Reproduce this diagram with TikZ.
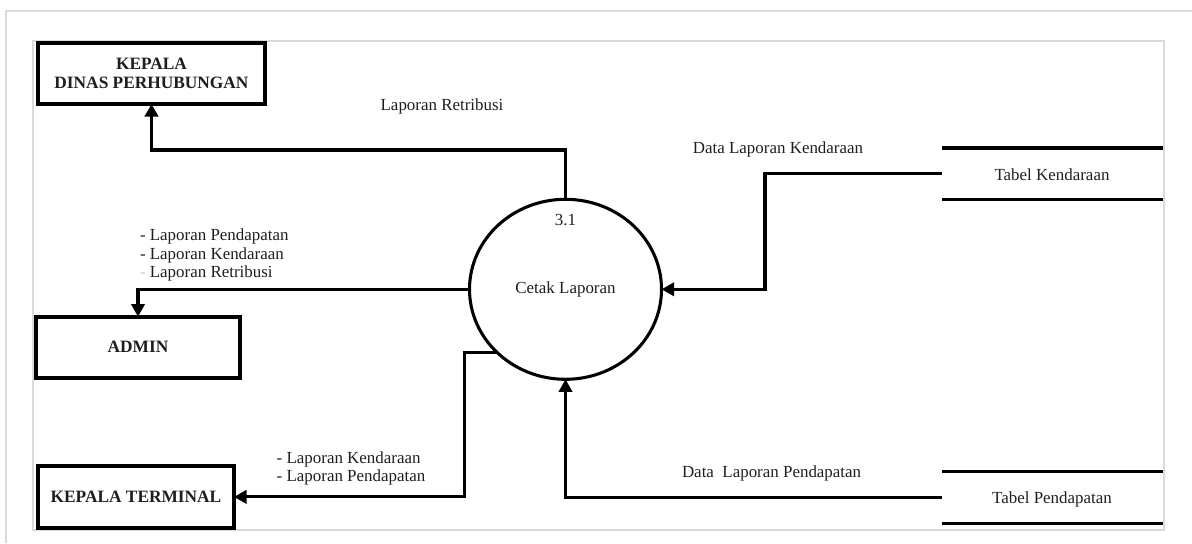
\documentclass[tikz,border=0pt]{standalone}
\usepackage{fontspec}
\setmainfont{Liberation Serif}
\usetikzlibrary{arrows.meta,shapes.geometric}
\definecolor{ink}{HTML}{1E1E1E}
\definecolor{framegray}{HTML}{DADADA}
\definecolor{faint}{HTML}{C8C8C8}
\begin{document}
\begin{tikzpicture}[x=0.75pt,y=-0.75pt,
  txt/.style={font=\fontsize{12.7pt}{14pt}\selectfont, text=ink, inner sep=0pt, outer sep=0pt},
  entity/.style={draw=black, line width=2.7pt, text=ink,
    font=\fontsize{13pt}{14.5pt}\selectfont\bfseries, align=center,
    inner sep=0pt, outer sep=0pt},
  proc/.style={ellipse, draw=black, line width=2.3pt, inner sep=0pt, outer sep=0pt,
    minimum width=144pt, minimum height=135pt},
  store/.style={inner sep=0pt, outer sep=0pt, minimum width=166pt, minimum height=38.5pt,
    font=\fontsize{12.7pt}{14pt}\selectfont, text=ink},
  storeline/.style={line width=2.4pt, draw=black},
  flow/.style={line width=2.3pt, draw=black, line join=miter,
    -{Triangle[length=9.5pt,width=10pt]}},
  frameline/.style={draw=framegray, line width=1.5pt}
]
\useasboundingbox (0,0) rectangle (1192,543);

% page frames
\draw[frameline] (6,543) -- (6,11) -- (1192,11);
\draw[frameline] (33,41) rectangle (1164,530);

% external entities
\node[entity, minimum width=170.25pt, minimum height=45.75pt] (kdp) at (151.5,73.5)
  {KEPALA\\DINAS PERHUBUNGAN};
\node[entity, minimum width=153pt, minimum height=45.75pt] (admin) at (138,347.2) {ADMIN};
\node[entity, minimum width=147pt, minimum height=46.5pt] (kt) at (136,496.9) {KEPALA TERMINAL};

% process
\node[proc] (p31) at (565.5,289.3) {};
\node[txt, anchor=base] (p31num) at (565.5,225.7) {3.1};
\node[txt, anchor=base] (p31name) at (565.5,293.3) {Cetak Laporan};

% data stores
\node[store] (tk) at (1052.5,173.7) {};
\node[txt, anchor=base] (tktext) at (1052,180) {Tabel Kendaraan};
\draw[storeline] (tk.north west) -- (tk.north east);
\draw[storeline] (tk.south west) -- (tk.south east);

\node[store] (tp) at (1052.5,497.5) {};
\node[txt, anchor=base] (tptext) at (1052,503.3) {Tabel Pendapatan};
\draw[storeline] (tp.north west) -- (tp.north east);
\draw[storeline] (tp.south west) -- (tp.south east);

% bend points
\coordinate (upper) at (152,150);
\coordinate (kbend) at (765,175);
\coordinate (tbend) at (464.5,353);

% data flows
\draw[flow] (p31.north) -- (p31.north |- upper) -| (kdp.south);
\draw[flow] (tk.west) -- (tk.west -| kbend) |- (p31.east);
\draw[flow] (tp.west) -| (p31.south);
\draw[flow] (p31.west) -| (admin.north);
\draw[flow] (p31.223) -- (p31.223 -| tbend) |- (kt.east);

% flow labels
\node[txt, anchor=base] (lretribusi) at (442,110.7) {Laporan Retribusi};
\node[txt, anchor=base] (ldlk) at (778,153.3) {Data Laporan Kendaraan};
\node[txt, anchor=base west] (ldlp) at (682,477.3) {Data\ \ Laporan Pendapatan};
\node[txt, anchor=base west] (la1) at (140,240) {- Laporan Pendapatan};
\node[txt, anchor=base west] (la2) at (140,259.3) {- Laporan Kendaraan};
\node[txt, anchor=base west] (la3) at (140,277.6) {\textcolor{faint}{-} Laporan Retribusi};
\node[txt, anchor=base west] (lt1) at (276.7,463.3) {- Laporan Kendaraan};
\node[txt, anchor=base west] (lt2) at (276.7,481.7) {- Laporan Pendapatan};
\end{tikzpicture}
\end{document}
